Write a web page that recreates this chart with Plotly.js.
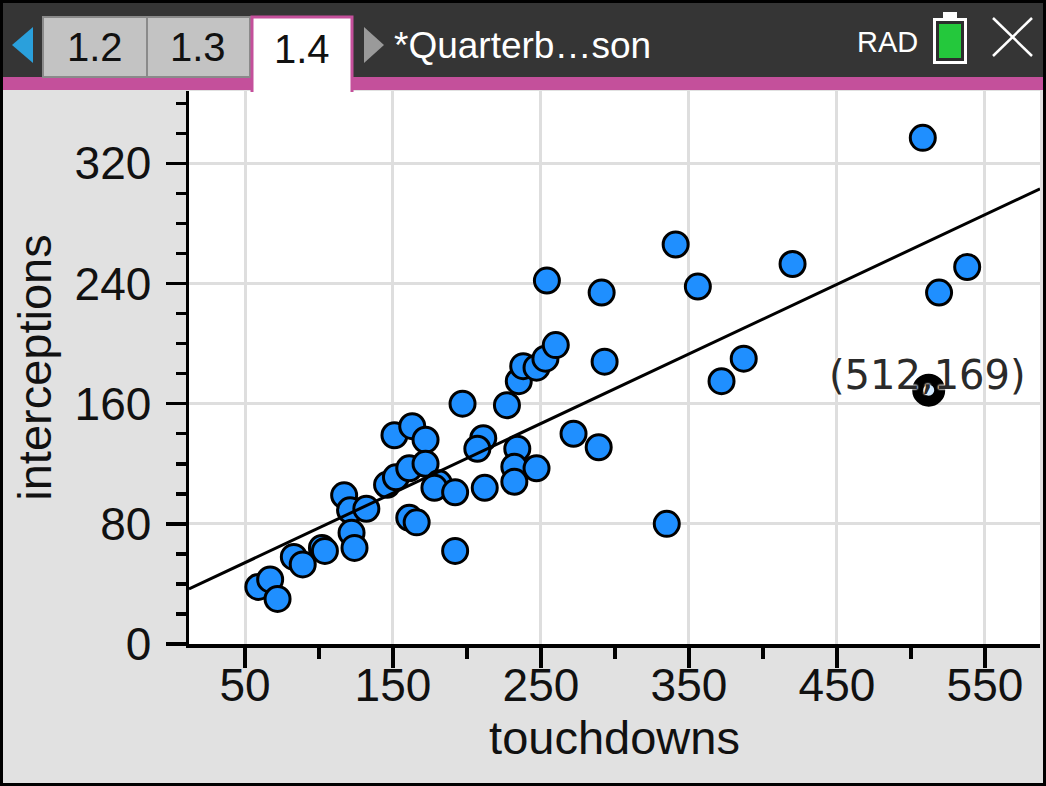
<!DOCTYPE html>
<html>
<head>
<meta charset="utf-8">
<script src="https://cdn.plot.ly/plotly-3.0.1.min.js"></script>
<style>
  html, body { margin: 0; padding: 0; background: #e1e1e1; }
  #chart { width: 1046px; height: 786px; }
</style>
</head>
<body>
<div id="chart"></div>
<script>
// ---- data ----
const touchdowns = [59, 67, 72, 83, 89, 102, 104, 117, 121, 132, 122, 124, 146, 152, 161, 166, 151, 163, 172, 161,
  172, 181, 178, 192, 192, 197, 211, 207, 212, 227, 234, 232, 232, 247, 235, 238, 247, 253, 260, 254,
  272, 289, 291, 293, 335, 341, 356, 372, 387, 420, 508, 519, 538, 512];
const interceptions = [38, 43, 30, 58, 53, 64, 62, 99, 89, 90, 74, 64, 106, 111, 84, 81, 139, 145, 136, 117,
  120, 107, 104, 101, 62, 160, 137, 130, 104, 159, 130, 118, 108, 117, 175, 185, 184, 190, 199, 242,
  140, 131, 234, 188, 80, 266, 238, 175, 190, 253, 337, 234, 251, 169];
const selectedIndex = 53;               // the highlighted point (512, 169)
const fitCoefficients = [0.4633, 31.0]; // slope, intercept of the drawn regression line
const xTickVals = [50, 150, 250, 350, 450, 550];
const xTickText = ['50', '150', '250', '350', '450', '550'];
const yTickVals = [0, 80, 160, 240, 320];
const yTickText = ['0', '80', '160', '240', '320'];
const tabLabels = ['1.2', '1.3', '1.4'];
const documentName = '*Quarterb…son';
const angleMode = 'RAD';
const xTitle = 'touchdowns';
const yTitle = 'interceptions';

// ---- layout geometry ----
const W = 1046, H = 786;
const M = { l: 189, r: 6, t: 91, b: 142 };
const PW = W - M.l - M.r, PH = H - M.t - M.b;
const PB = H - M.b; // plot bottom pixel
const xRange = [12.16, 587.2];
const yRange = [0, 368.2];
const px = x => (x - M.l) / PW;
const py = y => (PB - y) / PH;

const FONT = 'Liberation Sans, Arial, sans-serif';
const BLUE = '#1f8fff';
const PINK = '#c4509b';

function rect(x0, y0, x1, y1, fill, line) {
  return { type: 'rect', xref: 'paper', yref: 'paper', layer: 'above',
    x0: px(x0), x1: px(x1), y0: py(y1), y1: py(y0),
    fillcolor: fill, line: line || { width: 0 } };
}
function path(points, fill, line, closed) {
  let d = points.map((p, i) => (i ? 'L' : 'M') + px(p[0]) + ',' + py(p[1])).join(' ');
  if (closed) d += ' Z';
  return { type: 'path', xref: 'paper', yref: 'paper', layer: 'above', path: d,
    fillcolor: fill || 'rgba(0,0,0,0)', line: line || { width: 0 } };
}

const shapes = [
  rect(0, 0, W, 77, '#353535'),
  rect(0, 77, W, 90, PINK),
  rect(43, 17, 147, 77, '#c3c3c3', { color: '#8a8a8a', width: 2 }),
  rect(147, 17, 250, 77, '#c3c3c3', { color: '#8a8a8a', width: 2 }),
  rect(251, 16, 353, 92, '#ffffff'),
  path([[252, 92], [252, 17], [352, 17], [352, 92]], null, { color: PINK, width: 3 }, false),
  path([[33, 27], [12, 45], [33, 63]], '#2aa0dc', { width: 0 }, true),
  path([[364, 27], [384, 45], [364, 63]], '#9a9a9a', { width: 0 }, true),
  rect(943, 12, 957, 19, '#ffffff'),
  rect(933, 18, 967, 64, '#ffffff'),
  rect(936, 21, 964, 61, '#2d2d2d'),
  rect(939, 24, 961, 58, '#24c83c'),
  path([[993, 18], [1032, 56]], null, { color: '#ffffff', width: 2.5 }, false),
  path([[1032, 18], [993, 56]], null, { color: '#ffffff', width: 2.5 }, false),
  { type: 'rect', xref: 'paper', yref: 'paper', layer: 'above',
    x0: px(0), x1: px(W), y0: py(H), y1: py(0), line: { color: '#000', width: 6 } }
];

const tabCenters = [95, 198, 302];
const annotations = tabLabels.map((t, i) => ({
  xref: 'paper', yref: 'paper', x: px(tabCenters[i]), y: py(i === 2 ? 49 : 47),
  text: t, showarrow: false, xanchor: 'center', yanchor: 'middle',
  font: { family: FONT, size: 40, color: '#111' }
}));
annotations.push({
  xref: 'paper', yref: 'paper', x: px(392), y: py(45), text: documentName,
  showarrow: false, xanchor: 'left', yanchor: 'middle',
  font: { family: FONT, size: 37, color: '#ffffff' }
});
annotations.push({
  xref: 'paper', yref: 'paper', x: px(887), y: py(42), text: angleMode,
  showarrow: false, xanchor: 'center', yanchor: 'middle',
  font: { family: FONT, size: 29, color: '#ffffff' }
});
const selX = touchdowns[selectedIndex], selY = interceptions[selectedIndex];
annotations.push({
  xref: 'x', yref: 'y', x: selX, y: selY, yshift: 15, xshift: -1,
  text: '(' + selX + ',' + selY + ')', showarrow: false,
  xanchor: 'center', yanchor: 'middle',
  font: { family: 'DejaVu Sans, sans-serif', size: 40, color: '#2a2a2a',
          shadow: '0 0 2px #fff, 0 0 2px #fff, 0 0 2px #fff' }
});

const fitX = xRange.slice();
const fitY = fitX.map(x => fitCoefficients[0] * x + fitCoefficients[1]);

const traces = [
  { type: 'scatter', mode: 'markers', x: touchdowns, y: interceptions,
    marker: { size: 25, color: BLUE, line: { color: '#000', width: 3 } }, hoverinfo: 'skip' },
  { type: 'scatter', mode: 'lines', x: fitX, y: fitY,
    line: { color: '#000', width: 3 }, hoverinfo: 'skip' },
  { type: 'scatter', mode: 'markers', x: [selX], y: [selY],
    marker: { size: 22, color: '#d4eaff', line: { color: '#000', width: 11 } }, hoverinfo: 'skip' }
];

const tickFont = { family: FONT, size: 46, color: '#111' };
const layout = {
  width: W, height: H, margin: M,
  paper_bgcolor: '#e1e1e1', plot_bgcolor: '#ffffff',
  showlegend: false, hovermode: false,
  xaxis: {
    range: xRange, tickmode: 'array', tickvals: xTickVals, ticktext: xTickText,
    ticks: 'outside', ticklen: 20, tickwidth: 3.5, tickcolor: '#000',
    showline: true, linecolor: '#000', linewidth: 3.5, mirror: false,
    showgrid: true, gridcolor: '#dedede', gridwidth: 3, zeroline: false,
    tickfont: tickFont, ticklabelstandoff: -22,
    minor: { tickmode: 'linear', tick0: 0, dtick: 100, ticks: 'outside', ticklen: 11,
             tickwidth: 3.5, tickcolor: '#000', showgrid: false },
    title: { text: xTitle, font: { family: FONT, size: 47, color: '#111' }, standoff: 12 },
    automargin: false
  },
  yaxis: {
    range: yRange, tickmode: 'array', tickvals: yTickVals, ticktext: yTickText,
    ticks: 'outside', ticklen: 20, tickwidth: 3.5, tickcolor: '#000',
    showline: true, linecolor: '#000', linewidth: 3.5,
    showgrid: true, gridcolor: '#dedede', gridwidth: 3, zeroline: false,
    tickfont: tickFont, ticklabelstandoff: 5,
    minor: { tickmode: 'linear', tick0: 0, dtick: 20, ticks: 'outside', ticklen: 10,
             tickwidth: 3.5, tickcolor: '#000', showgrid: false },
    title: { text: yTitle, font: { family: FONT, size: 47, color: '#111' }, standoff: 9 },
    automargin: false
  },
  shapes: shapes,
  annotations: annotations
};

Plotly.newPlot('chart', traces, layout, { staticPlot: true, displayModeBar: false });
</script>
</body>
</html>
